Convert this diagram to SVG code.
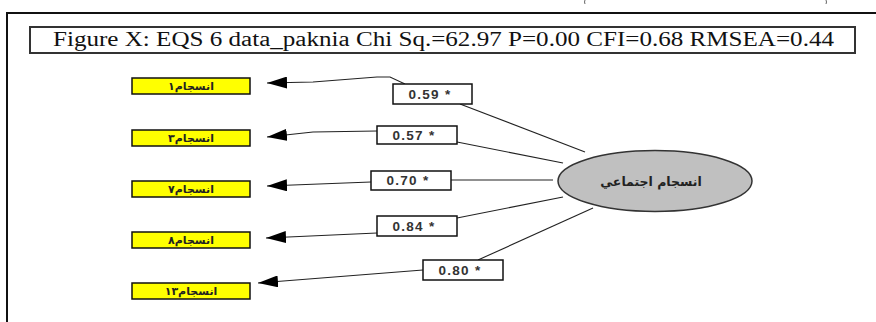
<svg xmlns="http://www.w3.org/2000/svg" width="876" height="322" viewBox="0 0 876 322">
<defs>
<style>
.frame{fill:none;stroke:#111;stroke-width:2}
.ind{fill:#ffff00;stroke:#111;stroke-width:1.5}
.indt{font-family:"DejaVu Sans",sans-serif;font-size:11px;font-weight:bold;fill:#222;text-anchor:middle}
.lab{fill:#fff;stroke:#111;stroke-width:1.5}
.labt{font-family:"Liberation Sans",Arial,sans-serif;font-size:13.5px;font-weight:bold;letter-spacing:1.3px;fill:#333;text-anchor:middle}
.con{fill:none;stroke:#222;stroke-width:1.1}
</style>
<marker id="ah" viewBox="0 0 20 12" refX="0" refY="6" markerWidth="20" markerHeight="12" markerUnits="userSpaceOnUse" orient="auto">
<path d="M0,6 L20,0 L20,12 Z" fill="#000"/>
</marker>
</defs>
<rect width="876" height="322" fill="#fff"/>
<path d="M585,0 Q584,2 585,4 M826,0 Q827,2 826,4" fill="none" stroke="#666" stroke-width="1"/>
<path class="frame" d="M7,322 V13 H876"/>
<g id="title">
<rect x="30" y="27" width="825" height="26" fill="#fff" stroke="#333" stroke-width="2"/>
<text x="53" y="45.5" font-family="Liberation Serif,'Times New Roman',serif" font-size="20" fill="#111" textLength="781" lengthAdjust="spacingAndGlyphs">Figure X: EQS 6 data_paknia Chi Sq.=62.97 P=0.00 CFI=0.68 RMSEA=0.44</text>
</g>
<g id="connectors">
<polyline class="con" marker-start="url(#ah)" points="267,83 313,82 377,77 390,77 405,84"/>
<line class="con" x1="460" y1="104" x2="585" y2="152"/>
<polyline class="con" marker-start="url(#ah)" points="267,137 313,132 377,131"/>
<line class="con" x1="457" y1="142" x2="563" y2="163"/>
<line class="con" marker-start="url(#ah)" x1="267" y1="186" x2="371" y2="182"/>
<line class="con" x1="451" y1="180" x2="553" y2="180"/>
<line class="con" marker-start="url(#ah)" x1="266" y1="238" x2="377" y2="233"/>
<line class="con" x1="457" y1="218" x2="563" y2="197"/>
<line class="con" marker-start="url(#ah)" x1="258" y1="283" x2="423" y2="270"/>
<line class="con" x1="478" y1="260" x2="593" y2="208"/>
</g>
<g id="ind1"><rect class="ind" x="132" y="78" width="118" height="16"/><text class="indt" x="191" y="90">انسجام۱</text></g>
<g id="ind3"><rect class="ind" x="132" y="130" width="118" height="16"/><text class="indt" x="191" y="142">انسجام۳</text></g>
<g id="ind7"><rect class="ind" x="132" y="181" width="118" height="16"/><text class="indt" x="191" y="193">انسجام۷</text></g>
<g id="ind8"><rect class="ind" x="132" y="232" width="118" height="16"/><text class="indt" x="191" y="244">انسجام۸</text></g>
<g id="ind13"><rect class="ind" x="132" y="283" width="118" height="16"/><text class="indt" x="191" y="295">انسجام۱۳</text></g>
<g id="l1"><rect class="lab" x="393" y="84" width="79" height="20"/><text class="labt" x="430" y="99">0.59 *</text></g>
<g id="l2"><rect class="lab" x="377" y="126" width="80" height="18"/><text class="labt" x="414" y="140">0.57 *</text></g>
<g id="l3"><rect class="lab" x="371" y="171" width="80" height="19"/><text class="labt" x="408" y="185">0.70 *</text></g>
<g id="l4"><rect class="lab" x="377" y="216" width="80" height="20"/><text class="labt" x="414" y="231">0.84 *</text></g>
<g id="l5"><rect class="lab" x="423" y="260" width="80" height="20"/><text class="labt" x="460" y="275">0.80 *</text></g>
<g id="factor">
<ellipse cx="655" cy="181" rx="97" ry="30.5" fill="#c0c0c0" stroke="#333" stroke-width="1.5"/>
<text x="651" y="186" font-family="'DejaVu Sans',sans-serif" font-size="12.5" font-weight="bold" fill="#222" text-anchor="middle">انسجام اجتماعي</text>
</g>
</svg>
